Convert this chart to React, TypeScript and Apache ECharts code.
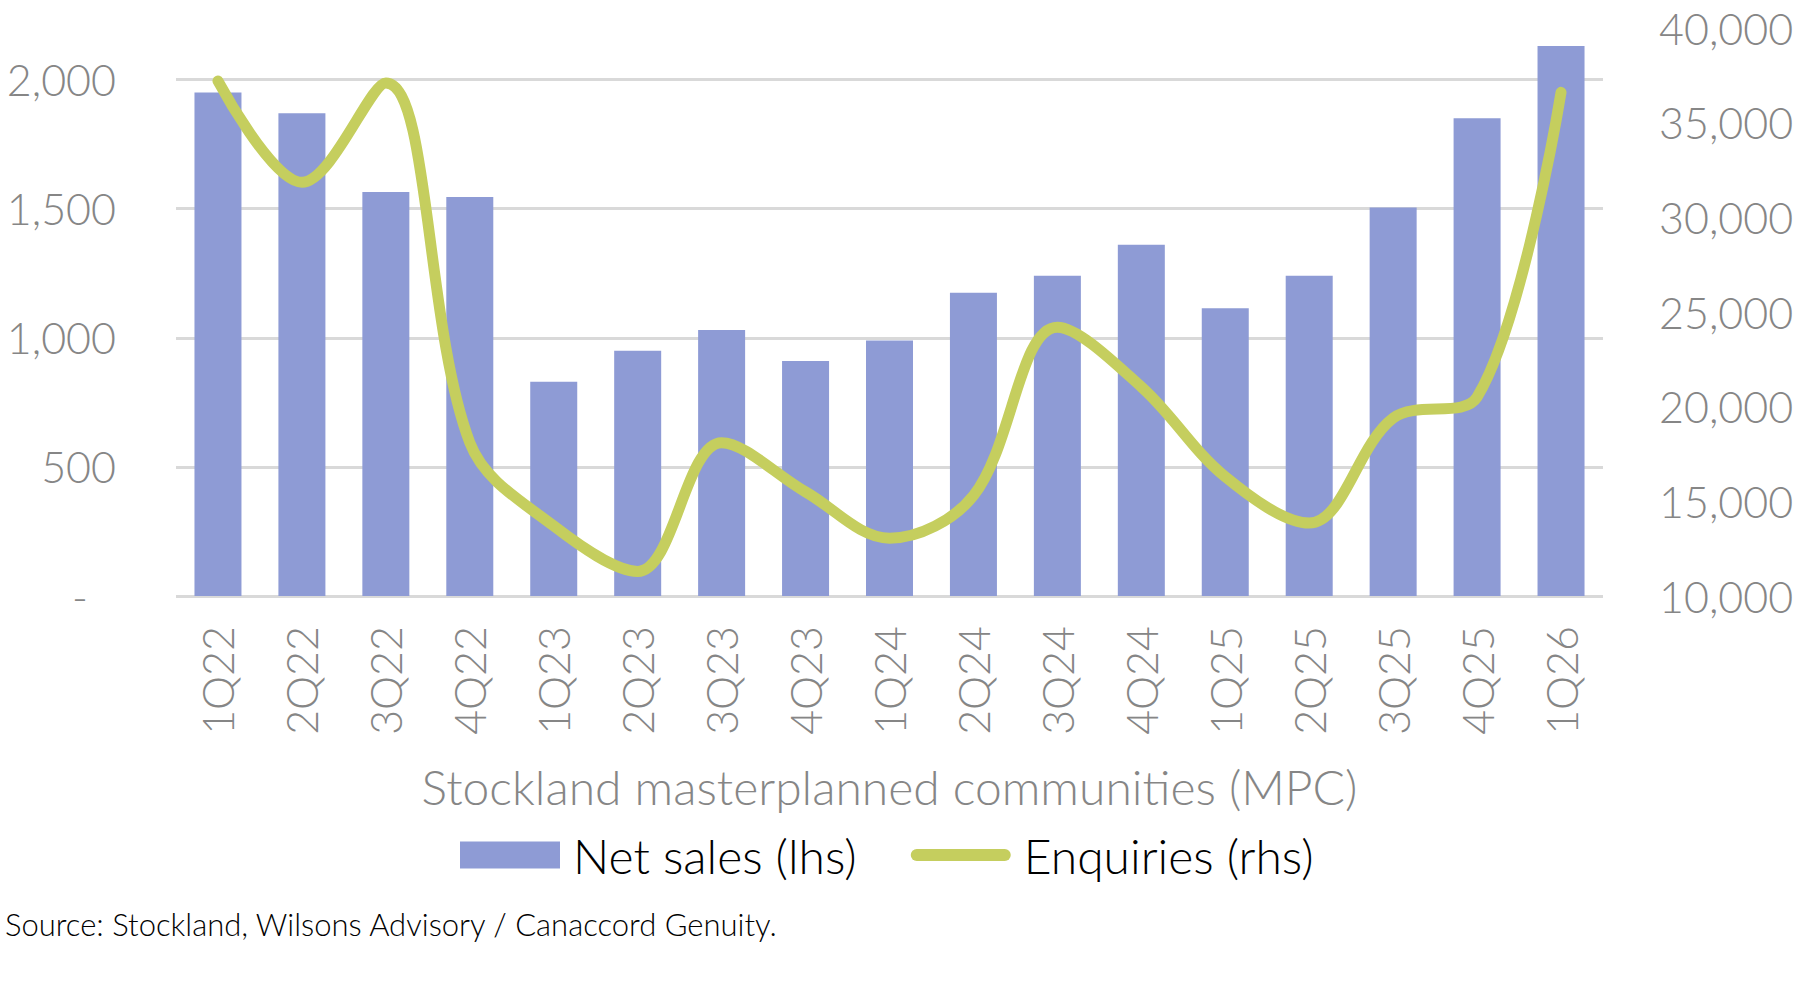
import React, { useEffect, useRef } from "react";
import * as echarts from "echarts";

const categories = [
  "1Q22", "2Q22", "3Q22", "4Q22", "1Q23", "2Q23", "3Q23", "4Q23", "1Q24",
  "2Q24", "3Q24", "4Q24", "1Q25", "2Q25", "3Q25", "4Q25", "1Q26",
];
const netSales = [
  1950, 1870, 1565, 1545, 830, 950, 1030, 910, 990,
  1175, 1240, 1360, 1115, 1240, 1505, 1850, 2130,
];
const enquiries = [
  37200, 31850, 37100, 18100, 13700, 11300, 18100, 15500, 13050,
  15300, 24200, 21050, 16300, 13850, 19400, 20500, 36600,
];
const seriesNames = ["Net sales (lhs)", "Enquiries (rhs)"];
const axisTitle = "Stockland masterplanned communities (MPC)";
const sourceText = "Source: Stockland, Wilsons Advisory / Canaccord Genuity.";

const FONT = 'Lato, "Open Sans", sans-serif';
const GREY = "#868686";
const BAR = "#8E9BD5";
const LINE = "#C5CE5E";
const LINE_ICON = "path://M6,0L94,0A6,6,0,0,1,94,12L6,12A6,6,0,0,1,6,0Z";

export default function App() {
  const ref = useRef<HTMLDivElement>(null);
  useEffect(() => {
    document.body.style.margin = "0";
    const chart = echarts.init(ref.current as HTMLDivElement, null, { renderer: "svg" });
    chart.setOption({
      animation: false,
      backgroundColor: "#ffffff",
      textStyle: { fontFamily: FONT },
      title: {
        text: sourceText,
        left: 5,
        top: 908,
        padding: 0,
        textStyle: { fontFamily: FONT, fontSize: 31, fontWeight: 300, color: "#000000" },
      },
      legend: {
        left: 460,
        top: 831,
        padding: 0,
        itemWidth: 100,
        itemHeight: 27,
        itemGap: 54,
        textStyle: { fontFamily: FONT, fontSize: 48, fontWeight: 300, color: "#000000", padding: [0, 0, 0, 8] },
        data: [
          { name: seriesNames[0], icon: "rect" },
          { name: seriesNames[1], icon: LINE_ICON, itemStyle: { color: LINE } },
        ],
      },
      grid: { left: 176, right: 197, top: 28, bottom: 386, containLabel: false },
      xAxis: {
        type: "category",
        data: categories,
        axisLine: { show: false },
        axisTick: { show: false },
        axisLabel: {
          rotate: 90,
          margin: 30,
          fontFamily: FONT,
          fontSize: 43,
          fontWeight: 300,
          color: GREY,
        },
        name: axisTitle,
        nameLocation: "middle",
        nameGap: 166,
        nameTextStyle: { fontFamily: FONT, fontSize: 48, fontWeight: 300, color: GREY },
      },
      yAxis: [
        {
          type: "value",
          min: 0,
          max: 2200,
          interval: 500,
          axisLine: { show: false },
          axisTick: { show: false },
          splitLine: {
            show: true,
            showMinLine: true,
            showMaxLine: false,
            lineStyle: { color: "#D9D9D9", width: 3 },
          },
          axisLabel: {
            margin: 60,
            showMaxLabel: false,
            fontFamily: FONT,
            fontSize: 43,
            fontWeight: 300,
            color: GREY,
            formatter: (v: number) =>
              v === 0 ? "{z|-}" : v.toLocaleString("en-US"),
            rich: {
              z: { fontFamily: FONT, fontSize: 43, fontWeight: 300, color: GREY, padding: [0, 28, 0, 0] },
            },
          },
        },
        {
          type: "value",
          min: 10000,
          max: 40000,
          interval: 5000,
          position: "right",
          axisLine: { show: false },
          axisTick: { show: false },
          splitLine: { show: false },
          axisLabel: {
            margin: 56,
            fontFamily: FONT,
            fontSize: 43,
            fontWeight: 300,
            color: GREY,
            formatter: (v: number) => v.toLocaleString("en-US"),
          },
        },
      ],
      series: [
        {
          name: seriesNames[0],
          type: "bar",
          data: netSales,
          barWidth: 47,
          itemStyle: { color: BAR },
          yAxisIndex: 0,
        },
        {
          name: seriesNames[1],
          type: "line",
          data: enquiries,
          yAxisIndex: 1,
          smooth: 0.35,
          symbol: "none",
          lineStyle: { color: LINE, width: 11, cap: "round" },
          itemStyle: { color: LINE },
        },
      ],
    });
    return () => chart.dispose();
  }, []);
  return (
    <div
      ref={ref}
      style={{ width: 1800, height: 982, position: "absolute", left: 0, top: 0 }}
    />
  );
}
